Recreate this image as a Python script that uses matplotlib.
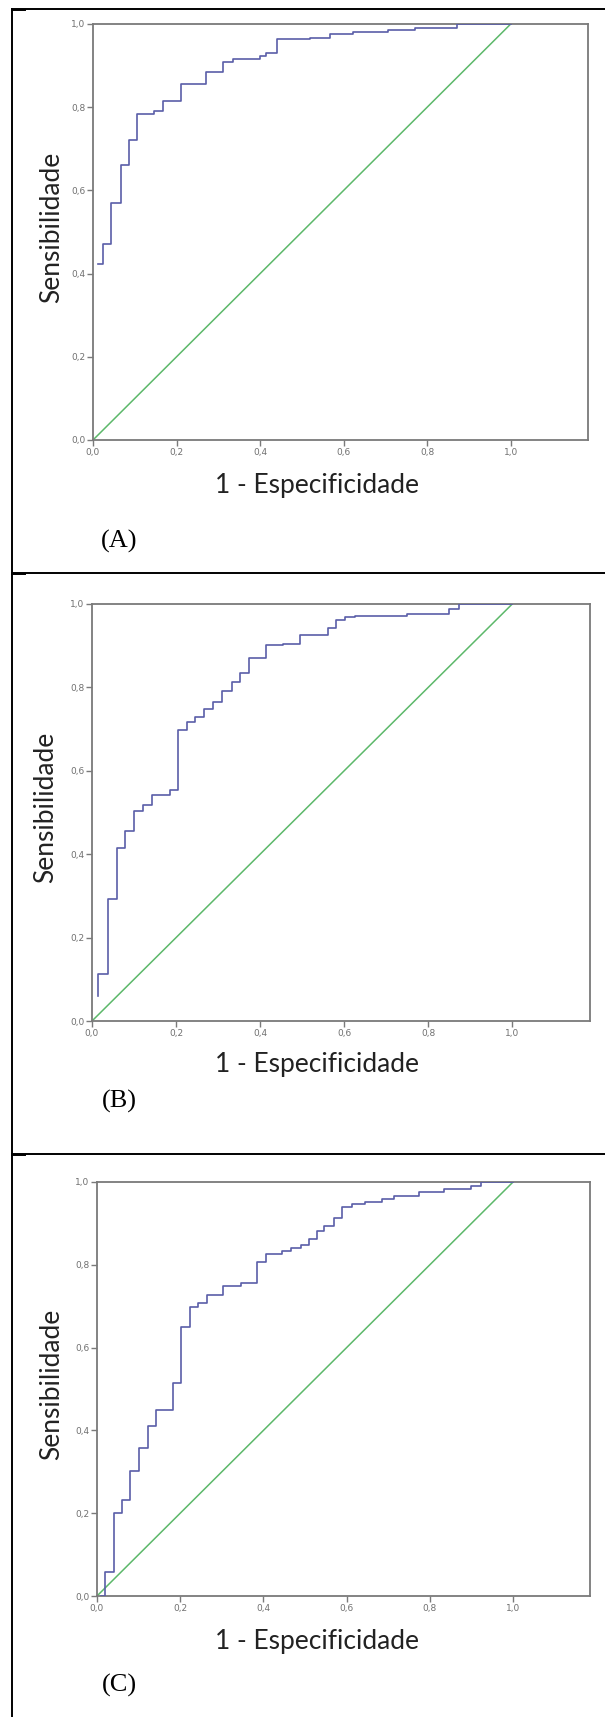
"""
Three ROC curves (A, B, C) stacked in a bordered table, SPSS style.
"""

import matplotlib
matplotlib.use('Agg')
import matplotlib.pyplot as plt
from matplotlib.lines import Line2D

# ROC points: 1 - especificidade, sensibilidade
fpr_a = [0.013, 0.025, 0.044, 0.066, 0.086, 0.106, 0.146, 0.168, 0.21, 0.27,
         0.312, 0.336, 0.40, 0.415, 0.44, 0.52, 0.567, 0.623, 0.706, 0.77,
         0.872, 1.0]
tpr_a = [0.423, 0.47, 0.569, 0.662, 0.72, 0.784, 0.792, 0.814, 0.856, 0.885,
         0.909, 0.915, 0.922, 0.93, 0.963, 0.967, 0.976, 0.98, 0.985, 0.99,
         1.0, 1.0]

fpr_b = [0.015, 0.015, 0.037, 0.059, 0.078, 0.10, 0.122, 0.142, 0.185, 0.205,
         0.225, 0.246, 0.267, 0.288, 0.31, 0.332, 0.352, 0.374, 0.413, 0.454,
         0.496, 0.562, 0.58, 0.603, 0.626, 0.75, 0.85, 0.873, 1.0]
tpr_b = [0.06, 0.113, 0.293, 0.414, 0.455, 0.504, 0.517, 0.542, 0.554, 0.697,
         0.717, 0.73, 0.748, 0.764, 0.792, 0.814, 0.835, 0.87, 0.901, 0.905,
         0.926, 0.943, 0.962, 0.968, 0.971, 0.975, 0.988, 1.0, 1.0]

fpr_c = [0.01, 0.019, 0.04, 0.061, 0.08, 0.10, 0.122, 0.142, 0.182, 0.203,
         0.223, 0.243, 0.264, 0.304, 0.347, 0.385, 0.407, 0.444, 0.467, 0.49,
         0.509, 0.528, 0.546, 0.57, 0.588, 0.612, 0.644, 0.686, 0.714, 0.774,
         0.835, 0.90, 0.923, 1.0]
tpr_c = [0.0, 0.059, 0.2, 0.232, 0.301, 0.357, 0.41, 0.45, 0.514, 0.65,
         0.697, 0.707, 0.727, 0.748, 0.757, 0.806, 0.826, 0.833, 0.84, 0.849,
         0.862, 0.882, 0.894, 0.914, 0.939, 0.948, 0.952, 0.958, 0.966, 0.975,
         0.984, 0.99, 1.0, 1.0]

ref_line = [0.0, 1.0]
tick_vals = [0.0, 0.2, 0.4, 0.6, 0.8, 1.0]
tick_labels = ['0,0', '0,2', '0,4', '0,6', '0,8', '1,0']
panel_names = ['(A)', '(B)', '(C)']
xlabel = '1 - Especificidade'
ylabel = 'Sensibilidade'

W, H = 605, 1717
CURVE = '#5a5ea8'
DIAG = '#5cb86a'
FRAME = '#7a7a7a'


def fx(px):
    return px / W


def fy(py):
    return 1 - py / H


fig = plt.figure(figsize=(W / 100, H / 100), dpi=100)

# panel boxes in pixels: left, top, right, bottom of the plot frame
boxes = [(93, 24, 588, 440), (92, 604, 590, 1021), (97, 1182, 590, 1596)]
ylab_x = [52, 46, 52]
xlab_y = [485, 1064, 1641]
name_y = [541, 1101, 1685]
curves = [(fpr_a, tpr_a), (fpr_b, tpr_b), (fpr_c, tpr_c)]

for i, (l, t, r, b) in enumerate(boxes):
    ax = fig.add_axes([fx(l), fy(b), (r - l) / W, (b - t) / H])
    fpr, tpr = curves[i]
    ax.plot(ref_line, ref_line, color=DIAG, lw=1.1, zorder=2)
    ax.plot(fpr, tpr, drawstyle='steps-post', color=CURVE, lw=1.2, zorder=3)
    ax.set_xlim(0, 1.185)
    ax.set_ylim(0, 1)
    ax.set_xticks(tick_vals)
    ax.set_xticklabels(tick_labels)
    ax.set_yticks(tick_vals)
    ax.set_yticklabels(tick_labels)
    ax.tick_params(length=4, width=1, color=FRAME, labelsize=6.5,
                   labelcolor='#707070', pad=1.5)
    for s in ax.spines.values():
        s.set_color(FRAME)
        s.set_linewidth(1.3)

    fig.text(fx(ylab_x[i]), fy((t + b) / 2 - 5), ylabel, rotation=90,
             ha='center', va='center', fontsize=19, family='Lato',
             color='#222222')
    fig.text(fx(317), fy(xlab_y[i]), xlabel, ha='center', va='center',
             fontsize=19, family='Lato', color='#222222')
    fig.text(fx(119), fy(name_y[i]), panel_names[i], ha='center',
             va='center', fontsize=19, family='Liberation Serif',
             color='black')

# table borders
fig.add_artist(Line2D([fx(12), fx(12)], [fy(9), fy(H)], color='black',
                      lw=1.4, transform=fig.transFigure))
for yy in [9, 573, 1154]:
    fig.add_artist(Line2D([fx(12), fx(W)], [fy(yy), fy(yy)], color='black',
                          lw=1.4, transform=fig.transFigure))
    fig.add_artist(Line2D([fx(12), fx(25)], [fy(yy + 1), fy(yy + 1)],
                          color='black', lw=1.4, transform=fig.transFigure))

plt.savefig('out.png', dpi=100)
